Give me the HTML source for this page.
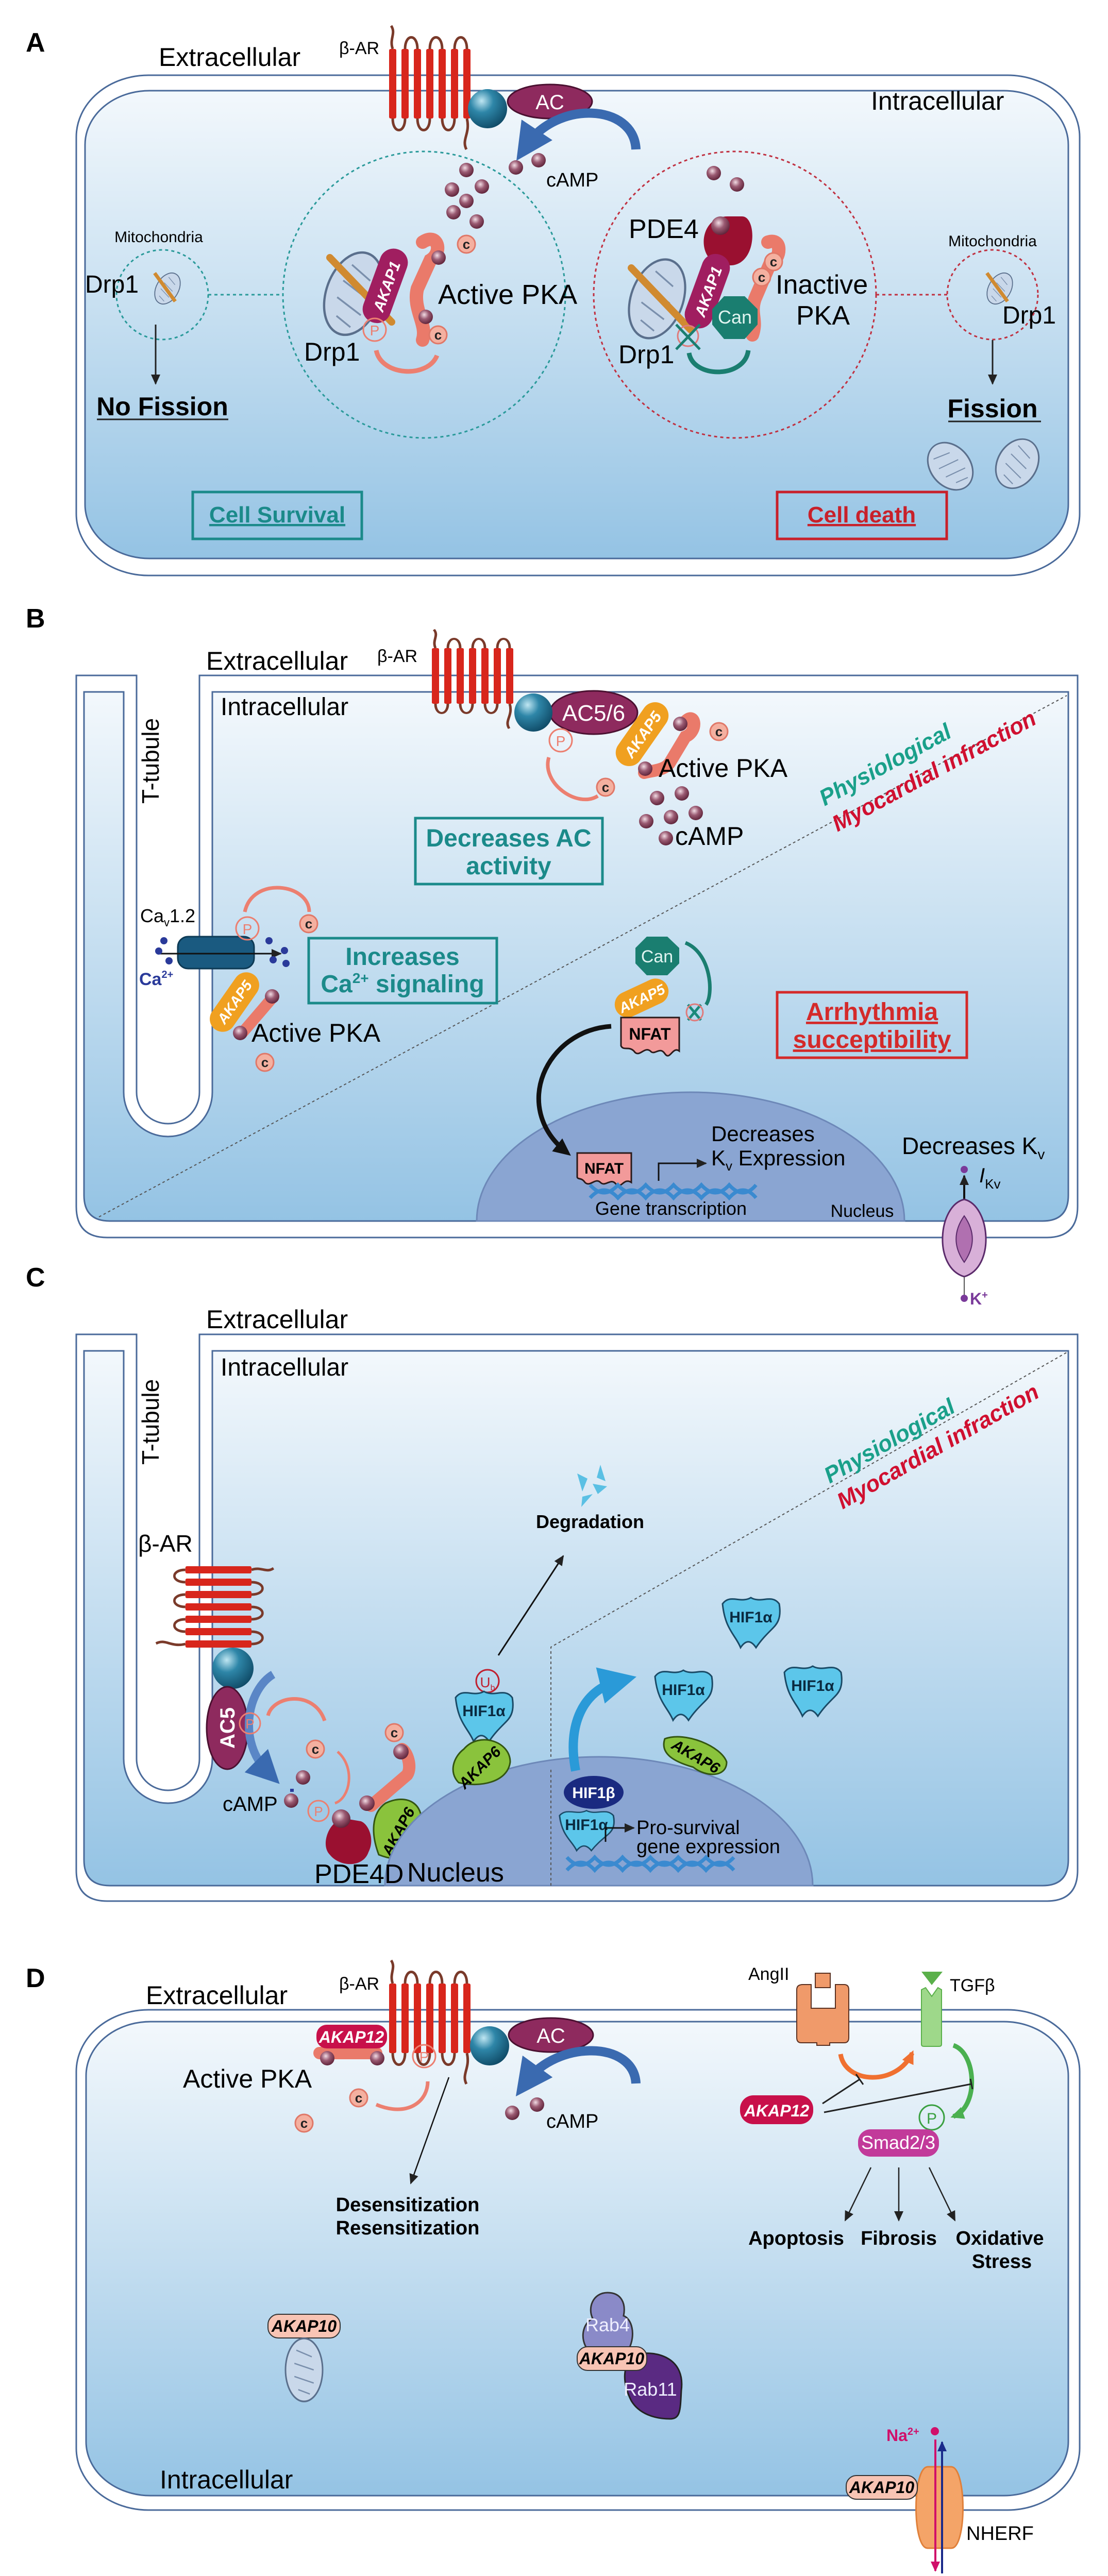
<!DOCTYPE html>
<html><head><meta charset="utf-8"><style>
html,body{margin:0;padding:0;background:#fff;width:2150px;height:5075px;overflow:hidden}
svg{display:block}
text{font-family:"Liberation Sans Narrow","Liberation Sans",sans-serif}
</style></head><body>
<svg width="2150" height="5075" viewBox="0 0 2150 5075" xmlns="http://www.w3.org/2000/svg" overflow="hidden">
<defs>
<linearGradient id="cg" x1="0" y1="0" x2="0" y2="1"><stop offset="0" stop-color="#f3f8fc"/><stop offset="1" stop-color="#94c3e4"/></linearGradient>
<radialGradient id="bl" cx="0.4" cy="0.35" r="0.7"><stop offset="0" stop-color="#f2dce4"/><stop offset="0.45" stop-color="#9a5a72"/><stop offset="1" stop-color="#5a1f35"/></radialGradient>
<radialGradient id="gp" cx="0.35" cy="0.3" r="0.75"><stop offset="0" stop-color="#bfe6f2"/><stop offset="0.4" stop-color="#2e86a8"/><stop offset="1" stop-color="#0f4a66"/></radialGradient>
<g id="rec">
<path d="M7,0 C0,-20 14,-30 4,-45 M31,0 C31,-30 55,-30 55,0 M79,0 C79,-30 103,-30 103,0 M127,0 C127,-30 151,-30 151,0 M7,135 C7,165 31,165 31,135 M55,135 C55,165 79,165 79,135 M103,135 C103,165 127,165 127,135 M151,135 C158,165 140,175 150,195" fill="none" stroke="#7a3a2a" stroke-width="5"/>
<rect x="0" y="0" width="14" height="135" rx="3" fill="#d8261c"/><rect x="24" y="0" width="14" height="135" rx="3" fill="#d8261c"/><rect x="48" y="0" width="14" height="135" rx="3" fill="#d8261c"/><rect x="72" y="0" width="14" height="135" rx="3" fill="#d8261c"/><rect x="96" y="0" width="14" height="135" rx="3" fill="#d8261c"/><rect x="120" y="0" width="14" height="135" rx="3" fill="#d8261c"/><rect x="144" y="0" width="14" height="135" rx="3" fill="#d8261c"/>
</g>
<g id="cb"><circle r="17" fill="#f4b0a0" stroke="#e07868" stroke-width="3"/><text y="9" text-anchor="middle" font-size="26" font-weight="bold" fill="#222">c</text></g>
<g id="mito"><ellipse rx="48" ry="72" fill="#c9d8ea" stroke="#5a6f8c" stroke-width="4"/><path d="M-20,-45 L20,-30 M-25,-15 L25,0 M-25,15 L25,30 M-15,45 L15,55" stroke="#7a8fac" stroke-width="3"/></g>
<g id="hif"><path d="M-55,-30 C-40,-50 -20,-30 0,-42 C20,-30 40,-50 55,-30 C60,0 50,10 40,20 C30,30 20,40 10,55 C0,40 -10,40 -20,55 C-30,30 -50,20 -55,-30 Z" fill="#5cc6ea" stroke="#1a4a66" stroke-width="3"/></g>
<marker id="ah" markerWidth="22" markerHeight="22" refX="18" refY="11" orient="auto" markerUnits="userSpaceOnUse"><path d="M0,2 L20,11 L0,20 Z" fill="#222"/></marker>
<marker id="ahk" markerWidth="40" markerHeight="40" refX="24" refY="20" orient="auto" markerUnits="userSpaceOnUse"><path d="M0,4 L34,20 L0,36 Z" fill="#111"/></marker>
<marker id="ahb" markerWidth="4" markerHeight="4" refX="2" refY="2" orient="auto"><path d="M0,0 L4,2 L0,4 Z" fill="#3a6ab0"/></marker>
<marker id="ahc" markerWidth="4" markerHeight="4" refX="2" refY="2" orient="auto"><path d="M0,0 L4,2 L0,4 Z" fill="#2a9ad8"/></marker>
<marker id="aho" markerWidth="30" markerHeight="30" refX="20" refY="15" orient="auto" markerUnits="userSpaceOnUse"><path d="M0,3 L26,15 L0,27 Z" fill="#f07030"/></marker>
<marker id="ahg" markerWidth="30" markerHeight="30" refX="20" refY="15" orient="auto" markerUnits="userSpaceOnUse"><path d="M0,3 L26,15 L0,27 Z" fill="#4ab050"/></marker>
<marker id="ahp" markerWidth="22" markerHeight="22" refX="18" refY="11" orient="auto" markerUnits="userSpaceOnUse"><path d="M0,2 L20,11 L0,20 Z" fill="#d0106a"/></marker>
<marker id="ahn" markerWidth="22" markerHeight="22" refX="18" refY="11" orient="auto" markerUnits="userSpaceOnUse"><path d="M0,2 L20,11 L0,20 Z" fill="#1a2a8a"/></marker>
</defs>

<!-- ================= PANEL A ================= -->
<text x="50" y="100" font-size="52" font-weight="bold" font-family="Liberation Sans">A</text>
<rect x="148" y="146" width="1947" height="971" rx="140" ry="120" fill="#fff" stroke="#4a6a9a" stroke-width="3"/>
<rect x="165" y="176" width="1908" height="908" rx="125" ry="105" fill="url(#cg)" stroke="#4a6a9a" stroke-width="3"/>
<text x="308" y="128" font-size="50">Extracellular</text>
<text x="658" y="105" font-size="34">β-AR</text>
<use href="#rec" x="755" y="95"/>
<text x="1690" y="213" font-size="50">Intracellular</text>
<ellipse cx="1067" cy="197" rx="82" ry="33" fill="#8e2a5e" stroke="#4a1030" stroke-width="3"/>
<text x="1067" y="212" text-anchor="middle" font-size="40" fill="#fff">AC</text>
<circle cx="946" cy="211" r="38" fill="url(#gp)"/>
<path d="M1234,290 C1230,200 1080,195 1022,282" fill="none" stroke="#3a6ab0" stroke-width="18" marker-end="url(#ahb)"/>
<circle cx="1001" cy="325" r="14" fill="url(#bl)"/><circle cx="1045" cy="311" r="14" fill="url(#bl)"/>
<text x="1060" y="362" font-size="38">cAMP</text>
<ellipse cx="823" cy="572" rx="274" ry="278" fill="none" stroke="#2a9a9a" stroke-width="3" stroke-dasharray="6,6"/>
<ellipse cx="1426" cy="572" rx="274" ry="278" fill="none" stroke="#c03040" stroke-width="3" stroke-dasharray="6,6"/>
<ellipse cx="315" cy="572" rx="89" ry="87" fill="none" stroke="#2a9a9a" stroke-width="3" stroke-dasharray="6,6"/>
<ellipse cx="1926" cy="572" rx="88" ry="87" fill="none" stroke="#c03040" stroke-width="3" stroke-dasharray="6,6"/>
<line x1="404" y1="572" x2="549" y2="572" stroke="#2a9a9a" stroke-width="3" stroke-dasharray="6,6"/>
<line x1="1700" y1="572" x2="1838" y2="572" stroke="#c03040" stroke-width="3" stroke-dasharray="6,6"/>
<text x="308" y="470" text-anchor="middle" font-size="30">Mitochondria</text>
<g transform="translate(325,560) rotate(30) scale(0.45)"><use href="#mito"/></g>
<line x1="300" y1="530" x2="340" y2="585" stroke="#d08a30" stroke-width="7"/>
<text x="165" y="568" font-size="48">Drp1</text>
<line x1="302" y1="630" x2="302" y2="745" stroke="#222" stroke-width="3" marker-end="url(#ah)"/>
<text x="315" y="806" text-anchor="middle" font-size="50" font-weight="bold">No Fission</text>
<line x1="188" y1="814" x2="443" y2="814" stroke="#222" stroke-width="3"/>
<text x="1926" y="478" text-anchor="middle" font-size="30">Mitochondria</text>
<g transform="translate(1940,560) rotate(30) scale(0.45)"><use href="#mito"/></g>
<line x1="1915" y1="530" x2="1955" y2="585" stroke="#d08a30" stroke-width="7"/>
<text x="1945" y="628" font-size="48">Drp1</text>
<line x1="1926" y1="660" x2="1926" y2="745" stroke="#222" stroke-width="3" marker-end="url(#ah)"/>
<text x="1926" y="810" text-anchor="middle" font-size="50" font-weight="bold">Fission</text>
<line x1="1840" y1="818" x2="2020" y2="818" stroke="#222" stroke-width="3"/>
<g transform="translate(1844,905) rotate(-40) scale(0.8,0.7)"><use href="#mito"/></g>
<g transform="translate(1974,900) rotate(30) scale(0.8,0.7)"><use href="#mito"/></g>
<rect x="374" y="955" width="328" height="91" fill="none" stroke="#1b8a8a" stroke-width="5"/>
<text x="538" y="1014" text-anchor="middle" font-size="44" font-weight="bold" fill="#1b8a8a" text-decoration="underline">Cell Survival</text>
<rect x="1508" y="955" width="329" height="91" fill="none" stroke="#c8202a" stroke-width="5"/>
<text x="1672" y="1014" text-anchor="middle" font-size="44" font-weight="bold" fill="#c8202a" text-decoration="underline">Cell death</text>
<g transform="translate(686,570) rotate(20)"><use href="#mito" transform="scale(1.1,1.15)"/></g>
<line x1="640" y1="500" x2="760" y2="625" stroke="#d08a30" stroke-width="14" stroke-linecap="round"/>
<path d="M820,470 C850,450 860,490 835,505 L810,560 C800,600 830,630 820,660" fill="none" stroke="#ea7a6a" stroke-width="26" stroke-linecap="round"/>
<rect x="720" y="480" width="55" height="150" rx="27" fill="#a01e60" transform="rotate(20 748 555)"/>
<text x="748" y="568" text-anchor="middle" font-size="30" fill="#fff" font-style="italic" font-weight="bold" transform="rotate(-70 748 555)">AKAP1</text>
<circle cx="851" cy="500" r="14" fill="url(#bl)"/><circle cx="826" cy="615" r="14" fill="url(#bl)"/>
<circle cx="727" cy="640" r="22" fill="none" stroke="#ec7f70" stroke-width="3"/><text x="727" y="651" text-anchor="middle" font-size="28" fill="#ec7f70">P</text>
<use href="#cb" x="905" y="474"/><use href="#cb" x="850" y="650"/>
<path d="M730,680 C740,730 830,735 848,690" fill="none" stroke="#ec7f70" stroke-width="9"/>
<text x="850" y="590" font-size="54">Active PKA</text>
<text x="590" y="700" font-size="50">Drp1</text>
<circle cx="877" cy="368" r="14" fill="url(#bl)"/><circle cx="935" cy="362" r="14" fill="url(#bl)"/><circle cx="905" cy="390" r="14" fill="url(#bl)"/><circle cx="880" cy="412" r="14" fill="url(#bl)"/><circle cx="925" cy="430" r="14" fill="url(#bl)"/><circle cx="905" cy="330" r="14" fill="url(#bl)"/>
<g transform="translate(1275,580) rotate(20)"><use href="#mito" transform="scale(1.05,1.1)"/></g>
<line x1="1225" y1="520" x2="1340" y2="640" stroke="#d08a30" stroke-width="14" stroke-linecap="round"/>
<path d="M1412,420 C1350,420 1350,520 1412,515 C1470,520 1470,420 1440,420" fill="#9a1030"/>
<circle cx="1398" cy="438" r="18" fill="url(#bl)"/>
<circle cx="1385" cy="336" r="14" fill="url(#bl)"/><circle cx="1430" cy="358" r="14" fill="url(#bl)"/>
<path d="M1490,470 C1520,460 1515,505 1495,510 L1465,580 C1455,610 1470,620 1460,650" fill="none" stroke="#ea7a6a" stroke-width="26" stroke-linecap="round"/>
<rect x="1345" y="490" width="55" height="150" rx="27" fill="#a01e60" transform="rotate(20 1372 565)"/>
<text x="1372" y="578" text-anchor="middle" font-size="30" fill="#fff" font-style="italic" font-weight="bold" transform="rotate(-70 1372 565)">AKAP1</text>
<use href="#cb" x="1501" y="508"/><use href="#cb" x="1478" y="538"/>
<polygon points="1405,575 1445,575 1470,600 1470,630 1445,658 1405,658 1382,630 1382,600" fill="#1a7e70"/>
<text x="1426" y="628" text-anchor="middle" font-size="36" fill="#e0f4f0">Can</text>
<circle cx="1335" cy="652" r="20" fill="none" stroke="#e07a7a" stroke-width="3"/>
<path d="M1312,630 L1358,678 M1358,630 L1312,678" stroke="#1a7e70" stroke-width="5"/>
<path d="M1337,685 C1345,735 1445,735 1452,680" fill="none" stroke="#1a7e70" stroke-width="9"/>
<text x="1220" y="462" font-size="52">PDE4</text>
<text x="1505" y="570" font-size="52">Inactive</text>
<text x="1545" y="630" font-size="52">PKA</text>
<text x="1200" y="705" font-size="50">Drp1</text>

<!-- ================= PANEL B ================= -->
<text x="50" y="1218" font-size="52" font-weight="bold" font-family="Liberation Sans">B</text>
<path d="M148,1311 H265 V2120 A61,61 0 0 0 387,2120 V1311 H2091 V2342 Q2091,2402 2031,2402 H208 Q148,2402 148,2342 Z" fill="#fff" stroke="#4a6a9a" stroke-width="3"/>
<path d="M163,1343 H240 V2120 A86,86 0 0 0 412,2120 V1343 H2073 V2320 Q2073,2370 2023,2370 H213 Q163,2370 163,2320 Z" fill="url(#cg)" stroke="#4a6a9a" stroke-width="3"/>
<text x="400" y="1300" font-size="50">Extracellular</text>
<text x="732" y="1285" font-size="34">β-AR</text>
<use href="#rec" transform="translate(838,1258) scale(1,0.8)"/>
<text x="428" y="1388" font-size="48">Intracellular</text>
<text transform="translate(308,1560) rotate(-90)" font-size="46" font-family="Liberation Sans">T-tubule</text>
<line x1="192" y1="2362" x2="2070" y2="1350" stroke="#555" stroke-width="2" stroke-dasharray="5,5"/>
<text transform="translate(1600,1565) rotate(-28.5)" font-size="44" font-weight="bold" font-style="italic" fill="#1aa08a" font-family="Liberation Sans">Physiological</text>
<text transform="translate(1625,1615) rotate(-28.5)" font-size="44" font-weight="bold" font-style="italic" fill="#d01030" font-family="Liberation Sans">Myocardial infraction</text>
<ellipse cx="1152" cy="1383" rx="85" ry="42" fill="#8e2a5e" stroke="#4a1030" stroke-width="3"/>
<text x="1152" y="1399" text-anchor="middle" font-size="44" fill="#fff">AC5/6</text>
<circle cx="1035" cy="1383" r="37" fill="url(#gp)"/>
<path d="M1330,1400 C1350,1380 1355,1420 1330,1430 L1300,1480 C1290,1495 1270,1495 1250,1500" fill="none" stroke="#ea7a6a" stroke-width="24" stroke-linecap="round"/>
<rect x="1220" y="1355" width="52" height="140" rx="26" fill="#f0a020" transform="rotate(35 1246 1425)"/>
<text x="1246" y="1437" text-anchor="middle" font-size="30" fill="#fff" font-style="italic" font-weight="bold" transform="rotate(-55 1246 1425)">AKAP5</text>
<circle cx="1320" cy="1405" r="14" fill="url(#bl)"/><circle cx="1252" cy="1492" r="14" fill="url(#bl)"/>
<circle cx="1088" cy="1437" r="22" fill="none" stroke="#ec7f70" stroke-width="3"/><text x="1088" y="1448" text-anchor="middle" font-size="28" fill="#ec7f70">P</text>
<path d="M1065,1470 C1050,1520 1120,1570 1160,1545" fill="none" stroke="#ec7f70" stroke-width="7"/>
<use href="#cb" x="1395" y="1420"/><use href="#cb" x="1175" y="1528"/>
<text x="1278" y="1508" font-size="50">Active PKA</text>
<circle cx="1275" cy="1549" r="14" fill="url(#bl)"/><circle cx="1323" cy="1540" r="14" fill="url(#bl)"/><circle cx="1254" cy="1594" r="14" fill="url(#bl)"/><circle cx="1302" cy="1586" r="14" fill="url(#bl)"/><circle cx="1350" cy="1578" r="14" fill="url(#bl)"/><circle cx="1292" cy="1627" r="14" fill="url(#bl)"/>
<text x="1310" y="1640" font-size="50">cAMP</text>
<rect x="806" y="1588" width="363" height="128" fill="none" stroke="#1b8a8a" stroke-width="5"/>
<text x="987" y="1643" text-anchor="middle" font-size="48" font-weight="bold" fill="#1b8a8a">Decreases AC</text>
<text x="987" y="1697" text-anchor="middle" font-size="48" font-weight="bold" fill="#1b8a8a">activity</text>
<rect x="599" y="1821" width="365" height="126" fill="none" stroke="#1b8a8a" stroke-width="5"/>
<text x="781" y="1873" text-anchor="middle" font-size="48" font-weight="bold" fill="#1b8a8a">Increases</text>
<text x="781" y="1926" text-anchor="middle" font-size="48" font-weight="bold" fill="#1b8a8a">Ca<tspan font-size="28" dy="-18">2+</tspan><tspan dy="18"> signaling</tspan></text>
<rect x="1508" y="1926" width="368" height="127" fill="none" stroke="#d42a2a" stroke-width="5"/>
<text x="1692" y="1980" text-anchor="middle" font-size="48" font-weight="bold" fill="#d42a2a" text-decoration="underline">Arrhythmia</text>
<text x="1692" y="2034" text-anchor="middle" font-size="48" font-weight="bold" fill="#d42a2a" text-decoration="underline">succeptibility</text>
<text x="272" y="1790" font-size="36">Ca<tspan font-size="22" dy="8">v</tspan><tspan dy="-8">1.2</tspan></text>
<rect x="345" y="1818" width="148" height="62" rx="20" fill="#1a5a80" stroke="#0d3a55" stroke-width="3"/>
<line x1="310" y1="1851" x2="545" y2="1851" stroke="#111" stroke-width="3" marker-end="url(#ah)"/>
<g fill="#2a3a9a"><circle cx="318" cy="1826" r="7"/><circle cx="308" cy="1846" r="7"/><circle cx="328" cy="1865" r="7"/><circle cx="522" cy="1826" r="7"/><circle cx="530" cy="1863" r="7"/><circle cx="552" cy="1845" r="7"/><circle cx="555" cy="1870" r="7"/></g>
<text x="270" y="1912" font-size="34" font-weight="bold" fill="#2a3a9a">Ca<tspan font-size="20" dy="-14">2+</tspan></text>
<circle cx="480" cy="1802" r="22" fill="none" stroke="#ec7f70" stroke-width="3"/><text x="480" y="1813" text-anchor="middle" font-size="28" fill="#ec7f70">P</text>
<path d="M475,1770 C490,1700 600,1715 600,1770" fill="none" stroke="#ec7f70" stroke-width="7"/>
<use href="#cb" x="599" y="1793"/>
<path d="M530,1935 L470,2005" stroke="#ea7a6a" stroke-width="22" stroke-linecap="round"/>
<rect x="430" y="1880" width="50" height="130" rx="25" fill="#f0a020" transform="rotate(35 455 1945)"/>
<text x="455" y="1955" text-anchor="middle" font-size="28" fill="#fff" font-style="italic" font-weight="bold" transform="rotate(-55 455 1945)">AKAP5</text>
<circle cx="528" cy="1934" r="14" fill="url(#bl)"/><circle cx="466" cy="2005" r="14" fill="url(#bl)"/>
<text x="488" y="2022" font-size="50">Active PKA</text>
<use href="#cb" x="514" y="2062"/>
<polygon points="1255,1818 1295,1818 1318,1840 1318,1870 1295,1893 1255,1893 1233,1870 1233,1840" fill="#1a7e70"/>
<text x="1275" y="1868" text-anchor="middle" font-size="34" fill="#e0f4f0">Can</text>
<path d="M1330,1830 C1380,1850 1385,1930 1370,1950" fill="none" stroke="#1a7e70" stroke-width="7"/>
<rect x="1190" y="1912" width="110" height="50" rx="25" fill="#f0a020" transform="rotate(-25 1245 1937)"/>
<text x="1245" y="1948" text-anchor="middle" font-size="28" fill="#fff" font-style="italic" font-weight="bold" transform="rotate(-25 1245 1937)">AKAP5</text>
<path d="M1335,1950 L1360,1980 M1360,1950 L1335,1980" stroke="#1a8a7a" stroke-width="5"/><circle cx="1348" cy="1965" r="16" fill="none" stroke="#e07a7a" stroke-width="3"/>
<path d="M1205,1975 H1318 V2040 C1305,2030 1300,2060 1290,2045 C1280,2030 1270,2050 1262,2040 C1250,2030 1240,2055 1230,2040 C1220,2030 1210,2040 1205,2030 Z" fill="#f29a9a" stroke="#2a1a1a" stroke-width="3"/>
<text x="1261" y="2018" text-anchor="middle" font-size="32" font-weight="bold">NFAT</text>
<path d="M925,2370 A415,250 0 0 1 1755,2370 Z" fill="#8aa5d2" stroke="#6d88b8" stroke-width="3"/>
<path d="M1186,1992 C1060,2000 990,2150 1100,2237" fill="none" stroke="#111" stroke-width="9" marker-end="url(#ahk)"/>
<path d="M1120,2238 H1225 V2295 C1210,2285 1205,2310 1195,2298 C1185,2285 1175,2305 1165,2295 C1155,2285 1145,2305 1135,2295 C1128,2285 1122,2290 1120,2285 Z" fill="#f29a9a" stroke="#2a1a1a" stroke-width="3"/>
<text x="1172" y="2278" text-anchor="middle" font-size="30" font-weight="bold">NFAT</text>
<path d="M1278,2292 V2258 H1370" fill="none" stroke="#111" stroke-width="3" marker-end="url(#ah)"/>
<path d="M1145,2300 Q1172,2330 1199,2300 Q1226,2330 1253,2300 Q1280,2330 1307,2300 Q1334,2330 1361,2300 Q1388,2330 1415,2300 Q1442,2330 1467,2300 M1145,2325 Q1172,2295 1199,2325 Q1226,2295 1253,2325 Q1280,2295 1307,2325 Q1334,2295 1361,2325 Q1388,2295 1415,2325 Q1442,2295 1467,2325" fill="none" stroke="#3a8ad0" stroke-width="7"/>
<text x="1380" y="2215" font-size="42">Decreases</text>
<text x="1380" y="2262" font-size="42">K<tspan font-size="26" dy="10">v</tspan><tspan dy="-10"> Expression</tspan></text>
<text x="1302" y="2358" text-anchor="middle" font-size="36">Gene transcription</text>
<text x="1673" y="2362" text-anchor="middle" font-size="34">Nucleus</text>
<text x="1750" y="2240" font-size="46">Decreases K<tspan font-size="28" dy="10">v</tspan></text>
<circle cx="1871" cy="2270" r="7" fill="#7a3a9a"/>
<line x1="1871" y1="2330" x2="1871" y2="2282" stroke="#111" stroke-width="4" marker-end="url(#ah)"/>
<text x="1900" y="2295" font-size="40" font-style="italic">I<tspan font-size="26" dy="12" font-style="normal">Kv</tspan></text>
<path d="M1871,2328 C1820,2340 1810,2460 1871,2478 C1932,2460 1922,2340 1871,2328 Z" fill="#d8b0d8" stroke="#5a2a6a" stroke-width="3"/>
<path d="M1871,2360 C1850,2390 1850,2420 1871,2450 C1892,2420 1892,2390 1871,2360 Z" fill="#b070b0" stroke="#5a2a6a" stroke-width="2"/>
<line x1="1871" y1="2478" x2="1871" y2="2515" stroke="#555" stroke-width="2"/>
<circle cx="1871" cy="2520" r="7" fill="#7a3a9a"/>
<text x="1882" y="2532" font-size="32" font-weight="bold" fill="#7a3a9a">K<tspan font-size="20" dy="-12">+</tspan></text>

<!-- ================= PANEL C ================= -->
<text x="50" y="2497" font-size="52" font-weight="bold" font-family="Liberation Sans">C</text>
<path d="M148,2590 H265 V3414 A61,61 0 0 0 387,3414 V2590 H2091 V3630 Q2091,3690 2031,3690 H208 Q148,3690 148,3630 Z" fill="#fff" stroke="#4a6a9a" stroke-width="3"/>
<path d="M163,2622 H240 V3414 A86,86 0 0 0 412,3414 V2622 H2073 V3610 Q2073,3660 2023,3660 H213 Q163,3660 163,3610 Z" fill="url(#cg)" stroke="#4a6a9a" stroke-width="3"/>
<text x="400" y="2578" font-size="50">Extracellular</text>
<text x="428" y="2670" font-size="48">Intracellular</text>
<text transform="translate(308,2843) rotate(-90)" font-size="46" font-family="Liberation Sans">T-tubule</text>
<path d="M1069,3660 V3197 L2070,2625" fill="none" stroke="#555" stroke-width="2" stroke-dasharray="5,5"/>
<text transform="translate(1610,2880) rotate(-29.7)" font-size="44" font-weight="bold" font-style="italic" fill="#1aa08a" font-family="Liberation Sans">Physiological</text>
<text transform="translate(1635,2930) rotate(-29.7)" font-size="44" font-weight="bold" font-style="italic" fill="#d01030" font-family="Liberation Sans">Myocardial infraction</text>
<text x="268" y="3012" font-size="46">β-AR</text>
<use href="#rec" transform="translate(488,3040) rotate(90) scale(1,0.95)"/>
<circle cx="452" cy="3238" r="40" fill="url(#gp)"/>
<ellipse cx="441" cy="3354" rx="40" ry="80" fill="#8e2a5e" stroke="#4a1030" stroke-width="3"/>
<text transform="translate(455,3354) rotate(-90)" text-anchor="middle" font-size="40" font-weight="bold" fill="#fff">AC5</text>
<path d="M530,3250 C480,3280 460,3380 520,3440" fill="none" stroke="#5a86c6" stroke-width="16" marker-end="url(#ahb)"/>
<circle cx="485" cy="3345" r="20" fill="none" stroke="#ec7f70" stroke-width="3"/><text x="485" y="3355" text-anchor="middle" font-size="26" fill="#ec7f70">P</text>
<path d="M520,3330 C530,3290 610,3280 630,3340" fill="none" stroke="#ec7f70" stroke-width="7"/>
<use href="#cb" x="612" y="3395"/><use href="#cb" x="765" y="3363"/>
<path d="M655,3400 C690,3430 680,3490 650,3500" fill="none" stroke="#ec7f70" stroke-width="5"/>
<rect x="563" y="3472" width="7" height="6" fill="#2a3a9a"/>
<circle cx="588" cy="3450" r="14" fill="url(#bl)"/><circle cx="565" cy="3495" r="14" fill="url(#bl)"/>
<text x="432" y="3515" font-size="40">cAMP</text>
<circle cx="618" cy="3515" r="20" fill="none" stroke="#ec7f70" stroke-width="3"/><text x="618" y="3525" text-anchor="middle" font-size="26" fill="#ec7f70">P</text>
<path d="M670,3530 C640,3530 620,3580 640,3600 C660,3625 705,3625 715,3595 C728,3570 715,3540 700,3535 Z" fill="#9a1030"/>
<circle cx="662" cy="3530" r="18" fill="url(#bl)"/>
<path d="M720,3505 L790,3445 C800,3430 790,3400 780,3395" fill="none" stroke="#ea7a6a" stroke-width="24" stroke-linecap="round"/>
<circle cx="778" cy="3400" r="15" fill="url(#bl)"/><circle cx="712" cy="3500" r="15" fill="url(#bl)"/>
<path d="M748,3500 C790,3480 830,3500 815,3560 C800,3620 760,3610 735,3600 C720,3560 720,3520 748,3500 Z" fill="#8ac33c" stroke="#335511" stroke-width="3"/>
<text transform="translate(782,3560) rotate(-62)" text-anchor="middle" font-size="30" font-weight="bold" font-style="italic">AKAP6</text>
<path d="M747,3660 A415,250 0 0 1 1577,3660 Z" fill="#8aa5d2" stroke="#6d88b8" stroke-width="3"/>
<path d="M1069,3660 V3430" stroke="#555" stroke-width="2" stroke-dasharray="5,5"/>
<text x="610" y="3655" font-size="52">PDE4D</text>
<text x="790" y="3652" font-size="52">Nucleus</text>
<path d="M967,3213 L1093,3020" stroke="#111" stroke-width="3" marker-end="url(#ah)"/>
<text x="1145" y="2966" text-anchor="middle" font-size="36" font-weight="bold">Degradation</text>
<g fill="#5ac0e4"><polygon points="1120,2860 1140,2870 1130,2895"/><polygon points="1165,2843 1175,2875 1158,2868"/><polygon points="1150,2880 1178,2885 1160,2900"/><polygon points="1130,2905 1150,2900 1128,2925"/></g>
<circle cx="946" cy="3263" r="22" fill="none" stroke="#c02030" stroke-width="3"/><text x="946" y="3275" text-anchor="middle" font-size="28" fill="#c02030">U<tspan font-size="16" dy="6">b</tspan></text>
<use href="#hif" x="939" y="3325"/><text x="939" y="3331" text-anchor="middle" font-size="30" font-weight="bold" fill="#0a2a40">HIF1α</text>
<path d="M900,3395 C930,3360 990,3380 990,3420 C985,3460 930,3470 890,3460 C870,3440 880,3410 900,3395 Z" fill="#8ac33c" stroke="#335511" stroke-width="3"/>
<text transform="translate(938,3438) rotate(-45)" text-anchor="middle" font-size="30" font-weight="bold" font-style="italic">AKAP6</text>
<path d="M1290,3375 C1330,3360 1400,3390 1410,3420 C1410,3450 1370,3450 1345,3430 C1310,3420 1280,3405 1290,3375 Z" fill="#8ac33c" stroke="#335511" stroke-width="3"/>
<text transform="translate(1345,3418) rotate(30)" text-anchor="middle" font-size="30" font-weight="bold" font-style="italic">AKAP6</text>
<use href="#hif" x="1457" y="3143"/><text x="1457" y="3149" text-anchor="middle" font-size="30" font-weight="bold" fill="#0a2a40">HIF1α</text>
<use href="#hif" x="1326" y="3284"/><text x="1326" y="3290" text-anchor="middle" font-size="30" font-weight="bold" fill="#0a2a40">HIF1α</text>
<use href="#hif" x="1577" y="3276"/><text x="1577" y="3282" text-anchor="middle" font-size="30" font-weight="bold" fill="#0a2a40">HIF1α</text>
<path d="M1117,3437 C1100,3350 1130,3280 1200,3263" fill="none" stroke="#2a9ad8" stroke-width="18" marker-end="url(#ahc)"/>
<ellipse cx="1152" cy="3479" rx="58" ry="32" fill="#1a2a80"/>
<text x="1152" y="3490" text-anchor="middle" font-size="30" font-weight="bold" fill="#fff">HIF1β</text>
<use href="#hif" transform="translate(1138,3548) scale(0.95,0.8)"/><text x="1138" y="3552" text-anchor="middle" font-size="30" font-weight="bold" fill="#0a2a40">HIF1α</text>
<path d="M1175,3575 V3548 H1230" fill="none" stroke="#111" stroke-width="3" marker-end="url(#ah)"/>
<text x="1235" y="3560" font-size="38">Pro-survival</text>
<text x="1235" y="3597" font-size="38">gene expression</text>
<path d="M1100,3605 Q1127,3635 1154,3605 Q1181,3635 1208,3605 Q1235,3635 1262,3605 Q1289,3635 1316,3605 Q1343,3635 1370,3605 Q1397,3635 1424,3605 M1100,3630 Q1127,3600 1154,3630 Q1181,3600 1208,3630 Q1235,3600 1262,3630 Q1289,3600 1316,3630 Q1343,3600 1370,3630 Q1397,3600 1424,3630" fill="none" stroke="#3a8ad0" stroke-width="7"/>

<!-- ================= PANEL D ================= -->
<text x="50" y="3857" font-size="52" font-weight="bold" font-family="Liberation Sans">D</text>
<rect x="148" y="3901" width="1947" height="971" rx="140" ry="120" fill="#fff" stroke="#4a6a9a" stroke-width="3"/>
<rect x="167" y="3924" width="1906" height="920" rx="125" ry="105" fill="url(#cg)" stroke="#4a6a9a" stroke-width="3"/>
<text x="283" y="3890" font-size="50">Extracellular</text>
<text x="658" y="3862" font-size="34">β-AR</text>
<use href="#rec" x="755" y="3850"/>
<path d="M620,3985 H730" stroke="#ea7a6a" stroke-width="24" stroke-linecap="round"/>
<circle cx="635" cy="3995" r="14" fill="url(#bl)"/><circle cx="732" cy="3995" r="14" fill="url(#bl)"/>
<rect x="614" y="3930" width="137" height="46" rx="20" fill="#c8104a"/>
<text x="682" y="3965" text-anchor="middle" font-size="32" font-weight="bold" font-style="italic" fill="#fff">AKAP12</text>
<circle cx="823" cy="3991" r="22" fill="none" stroke="#ec7f70" stroke-width="3"/><text x="823" y="4002" text-anchor="middle" font-size="28" fill="#ec7f70">P</text>
<path d="M830,4040 C830,4080 790,4110 730,4085" fill="none" stroke="#ec7f70" stroke-width="7"/>
<use href="#cb" x="696" y="4072"/><use href="#cb" x="590" y="4121"/>
<text x="355" y="4052" font-size="50">Active PKA</text>
<ellipse cx="1069" cy="3950" rx="82" ry="33" fill="#8e2a5e" stroke="#4a1030" stroke-width="3"/>
<text x="1069" y="3965" text-anchor="middle" font-size="40" fill="#fff">AC</text>
<circle cx="950" cy="3971" r="38" fill="url(#gp)"/>
<path d="M1234,4044 C1230,3960 1080,3960 1022,4040" fill="none" stroke="#3a6ab0" stroke-width="18" marker-end="url(#ahb)"/>
<circle cx="994" cy="4101" r="14" fill="url(#bl)"/><circle cx="1042" cy="4085" r="14" fill="url(#bl)"/>
<text x="1060" y="4130" font-size="38">cAMP</text>
<line x1="871" y1="4032" x2="797" y2="4238" stroke="#111" stroke-width="2.5" marker-end="url(#ah)"/>
<text x="791" y="4292" text-anchor="middle" font-size="38" font-weight="bold">Desensitization</text>
<text x="791" y="4337" text-anchor="middle" font-size="38" font-weight="bold">Resensitization</text>
<text x="1452" y="3843" font-size="34">AngII</text>
<path d="M1558,3852 H1574 V3898 H1621 V3852 H1638 Q1647,3852 1647,3862 V3955 Q1647,3965 1638,3965 H1610 V3970 H1585 V3965 H1555 Q1546,3965 1546,3955 V3862 Q1546,3852 1558,3852 Z" fill="#f09a6a" stroke="#5a3020" stroke-width="2"/>
<rect x="1582" y="3830" width="29" height="28" fill="#f09a6a" stroke="#5a3020" stroke-width="2"/>
<polygon points="1788,3827 1829,3827 1808,3853" fill="#5ab04a"/>
<text x="1843" y="3865" font-size="34">TGFβ</text>
<path d="M1788,3862 L1796,3858 L1808,3875 L1820,3858 L1827,3862 V3968 Q1827,3972 1822,3972 H1793 Q1788,3972 1788,3968 Z" fill="#9ed88a" stroke="#5ab04a" stroke-width="2"/>
<path d="M1631,3987 C1640,4045 1740,4050 1770,3985" fill="none" stroke="#f07030" stroke-width="9" marker-end="url(#aho)"/>
<path d="M1850,3970 C1895,3985 1900,4090 1850,4108" fill="none" stroke="#4ab050" stroke-width="9" marker-end="url(#ahg)"/>
<rect x="1436" y="4067" width="142" height="56" rx="26" fill="#c8104a"/>
<text x="1507" y="4108" text-anchor="middle" font-size="32" font-weight="bold" font-style="italic" fill="#fff">AKAP12</text>
<path d="M1596,4083 L1668,4036 M1661,4026 L1675,4046 M1599,4100 L1885,4045 M1883,4035 L1887,4055" stroke="#222" stroke-width="3" fill="none"/>
<circle cx="1808" cy="4110" r="24" fill="none" stroke="#3aa040" stroke-width="3"/><text x="1808" y="4122" text-anchor="middle" font-size="30" fill="#3aa040">P</text>
<rect x="1665" y="4133" width="157" height="53" rx="24" fill="#c23a9a"/>
<text x="1743" y="4171" text-anchor="middle" font-size="36" fill="#fff">Smad2/3</text>
<line x1="1690" y1="4207" x2="1640" y2="4310" stroke="#222" stroke-width="2.5" marker-end="url(#ah)"/>
<line x1="1744" y1="4207" x2="1744" y2="4310" stroke="#222" stroke-width="2.5" marker-end="url(#ah)"/>
<line x1="1803" y1="4207" x2="1853" y2="4310" stroke="#222" stroke-width="2.5" marker-end="url(#ah)"/>
<text x="1545" y="4357" text-anchor="middle" font-size="38" font-weight="bold">Apoptosis</text>
<text x="1744" y="4357" text-anchor="middle" font-size="38" font-weight="bold">Fibrosis</text>
<text x="1940" y="4357" text-anchor="middle" font-size="38" font-weight="bold">Oxidative</text>
<text x="1944" y="4402" text-anchor="middle" font-size="38" font-weight="bold">Stress</text>
<rect x="520" y="4492" width="140" height="46" rx="20" fill="#f8c4b4" stroke="#333" stroke-width="2"/>
<text x="590" y="4526" text-anchor="middle" font-size="32" font-weight="bold" font-style="italic">AKAP10</text>
<g transform="translate(590,4600) scale(0.75,0.85)"><use href="#mito"/></g>
<path d="M1179,4450 C1150,4450 1140,4480 1150,4500 C1130,4510 1125,4540 1140,4560 H1220 C1235,4530 1225,4500 1210,4495 C1215,4470 1205,4450 1179,4450 Z" fill="#8a8ac8" stroke="#333" stroke-width="3"/>
<text x="1179" y="4525" text-anchor="middle" font-size="36" fill="#eef">Rab4</text>
<path d="M1230,4570 C1280,4560 1330,4580 1322,4640 C1320,4680 1320,4695 1300,4695 C1270,4695 1240,4685 1225,4660 C1205,4620 1210,4590 1230,4570 Z" fill="#5a2a82" stroke="#222" stroke-width="3"/>
<text x="1262" y="4650" text-anchor="middle" font-size="36" fill="#eef">Rab11</text>
<rect x="1120" y="4555" width="135" height="46" rx="20" fill="#f8c4b4" stroke="#333" stroke-width="2"/>
<text x="1187" y="4589" text-anchor="middle" font-size="32" font-weight="bold" font-style="italic">AKAP10</text>
<text x="310" y="4830" font-size="50">Intracellular</text>
<path d="M1800,4788 C1770,4790 1770,4946 1800,4946 H1846 C1876,4946 1876,4790 1846,4788 Z" fill="#f4a468" stroke="#e0803a" stroke-width="3"/>
<rect x="1642" y="4805" width="138" height="46" rx="20" fill="#f8c4b4" stroke="#333" stroke-width="2"/>
<text x="1711" y="4839" text-anchor="middle" font-size="32" font-weight="bold" font-style="italic">AKAP10</text>
<line x1="1815" y1="4735" x2="1815" y2="4990" stroke="#d0106a" stroke-width="4" marker-end="url(#ahp)"/>
<line x1="1828" y1="4995" x2="1828" y2="4740" stroke="#1a2a8a" stroke-width="4" marker-end="url(#ahn)"/>
<circle cx="1814" cy="4719" r="8" fill="#d0106a"/>
<text x="1720" y="4738" font-size="32" font-weight="bold" fill="#d0106a">Na<tspan font-size="20" dy="-12">2+</tspan></text>
<circle cx="1827" cy="5015" r="7" fill="#1a2a8a"/>
<text x="1840" y="5027" font-size="32" font-weight="bold" fill="#1a2a8a">H<tspan font-size="20" dy="-12">+</tspan></text>
<text x="1875" y="4930" font-size="38">NHERF</text>
</svg>
</body></html>
